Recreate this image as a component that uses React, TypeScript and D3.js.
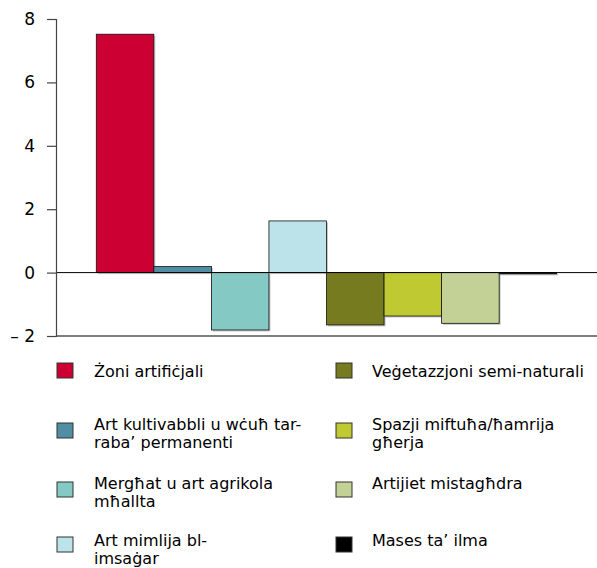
import { useEffect, useRef } from "react";
import * as d3 from "d3";

const categories = [
  "Żoni artifiċjali",
  "Art kultivabbli u wċuħ tar-\nraba’ permanenti",
  "Mergħat u art agrikola\nmħallta",
  "Art mimlija bl-\nimsaġar",
  "Veġetazzjoni semi-naturali",
  "Spazji miftuħa/ħamrija\ngħerja",
  "Artijiet mistagħdra",
  "Mases ta’ ilma",
];
const values = [7.52, 0.19, -1.81, 1.63, -1.65, -1.37, -1.6, -0.04];
const colors = ["#cc0033", "#508ea3", "#85c9c4", "#bde3ea", "#767b1f", "#bfc932", "#c3d197", "#000000"];
const yTicks = [-2, 0, 2, 4, 6, 8];

const W = 597;
const H = 568;
const FONT = "'DejaVu Sans', Verdana, sans-serif";

export default function App() {
  const svgRef = useRef<SVGSVGElement>(null);

  useEffect(() => {
    if (!svgRef.current) return;
    const svg = d3.select(svgRef.current);
    svg.selectAll("*").remove();

    const left = 56, right = 597, top = 19, bottom = 336;
    const x = d3.scaleBand<number>().domain(d3.range(categories.length)).range([left, right]).paddingInner(0).paddingOuter(0.7);
    const y = d3.scaleLinear().domain([-2, 8]).range([bottom, top]);

    // bars with a soft gray shadow
    const g = svg.append("g");
    values.forEach((v, i) => {
      const x0 = x(i)!;
      const y0 = Math.min(y(v), y(0));
      const h = Math.max(Math.abs(y(v) - y(0)), 1);
      g.append("rect")
        .attr("x", x0 + 1.5).attr("y", y0 + 1.5)
        .attr("width", x.bandwidth()).attr("height", h)
        .attr("fill", "#999").attr("opacity", 0.55);
      g.append("rect")
        .attr("x", x0).attr("y", y0)
        .attr("width", x.bandwidth()).attr("height", h)
        .attr("fill", colors[i]).attr("stroke", "#111").attr("stroke-width", 0.8);
    });

    // zero line and bottom line
    svg.append("line")
      .attr("x1", left).attr("x2", right).attr("y1", y(0)).attr("y2", y(0))
      .attr("stroke", "#000").attr("stroke-width", 1);
    svg.append("line")
      .attr("x1", left).attr("x2", right).attr("y1", y(-2)).attr("y2", y(-2))
      .attr("stroke", "#555").attr("stroke-width", 1.5);

    // y axis
    const axis = svg.append("g")
      .attr("transform", `translate(${left},0)`)
      .call(d3.axisLeft(y).tickValues(yTicks).tickSize(9).tickPadding(12)
        .tickFormat(d => (+d < 0 ? `– ${Math.abs(+d)}` : `${d}`)));
    axis.select(".domain").attr("stroke", "#444").attr("stroke-width", 1.2);
    axis.selectAll(".tick line").attr("stroke", "#444").attr("stroke-width", 1.2);
    axis.selectAll("text")
      .attr("font-family", FONT)
      .attr("font-size", 17).attr("fill", "#000");

    // legend
    const rowBase = [377, 430, 489, 546];
    const rowSwatch = [363, 423, 482, 537];
    const leg = svg.append("g").attr("font-family", FONT).attr("font-size", 16);
    categories.forEach((c, i) => {
      const col = Math.floor(i / 4);
      const row = i % 4;
      const sx = col === 0 ? 57 : 336;
      const tx = col === 0 ? 94 : 372;
      leg.append("rect")
        .attr("x", sx).attr("y", rowSwatch[row]).attr("width", 16).attr("height", 15)
        .attr("fill", colors[i]).attr("stroke", "#333").attr("stroke-width", 1);
      const t = leg.append("text").attr("x", tx).attr("y", rowBase[row]).attr("fill", "#000");
      c.split("\n").forEach((line, k) => {
        t.append("tspan").attr("x", tx).attr("dy", k === 0 ? 0 : 17.5).text(line);
      });
    });
  }, []);

  return (
    <svg ref={svgRef} width={W} height={H}
      style={{ position: "absolute", left: 0, top: 0, display: "block", background: "#fff" }} />
  );
}
